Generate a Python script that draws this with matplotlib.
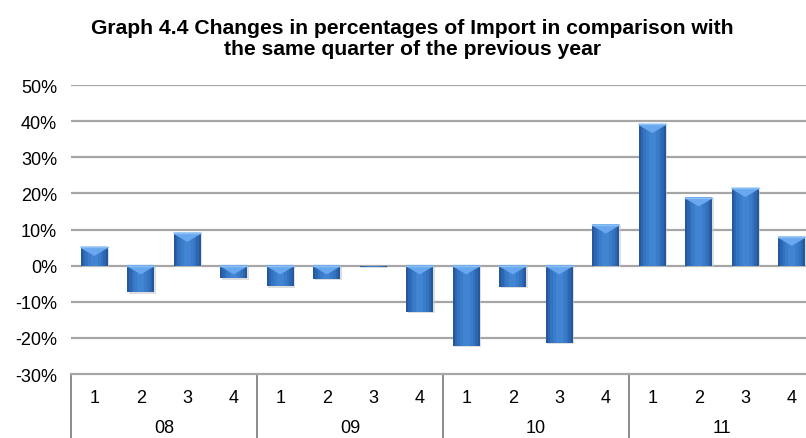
import numpy as np
import matplotlib
matplotlib.use("Agg")
from matplotlib import pyplot as plt
from matplotlib.patches import Polygon

# data (change in % vs same quarter previous year)
years = ["08", "09", "10", "11"]
quarters = ["1", "2", "3", "4"]
values = [5.1, -7.4, 9.0, -3.5,
          -5.7, -3.7, -0.3, -12.7,
          -22.2, -5.8, -21.4, 11.3,
          39.1, 18.8, 21.4, 7.9]
title = "Graph 4.4 Changes in percentages of Import in comparison with\nthe same quarter of the previous year"

plt.rcParams['font.family'] = ['Liberation Sans', 'DejaVu Sans']

fig = plt.figure(figsize=(8.06, 4.39), dpi=100)
ax = fig.add_axes([71/806, 1-375/439, 744/806, 289/439])

x = np.arange(len(values))
vals = np.array(values) / 100.0
bw = 0.58

# gridlines
for g in np.arange(-0.2, 0.51, 0.1):
	ax.axhline(g, color="#a6a6a6", lw=1.6, zorder=1)

# shadow, then layered bars for a soft horizontal gradient
ax.bar(x + 0.03, vals, bw, bottom=-0.004, color="#c8c8c8", alpha=0.6, zorder=2)
layers = [(1.0, "#24579c"), (0.86, "#2d66b0"), (0.68, "#3473c0"), (0.48, "#3a7cca"), (0.26, "#4184d2")]
for k, (f, c) in enumerate(layers):
	ax.bar(x, vals, bw * f, color=c, zorder=3 + k)

# light bevel triangle at top of each bar
bev = 0.022
for xi, v in zip(x, vals):
	top = max(v, 0)
	h = min(bev, abs(v))
	if h < 0.005:
		continue
	tri = Polygon([[xi - bw/2, top], [xi + bw/2, top], [xi, top - h]],
		closed=True, color="#69a8ee", zorder=9)
	ax.add_patch(tri)
	ax.plot([xi - bw/2, xi + bw/2], [top, top], color="#8cc0f5", lw=1, zorder=9)

ax.set_xlim(-0.5, 15.5)
ax.set_ylim(-0.3, 0.5)
ax.set_yticks(np.arange(-0.3, 0.51, 0.1))
ax.set_yticklabels(["{:d}%".format(int(round(t*100))) for t in np.arange(-0.3, 0.51, 0.1)])
ax.tick_params(axis='y', length=0, labelsize=13, pad=10, colors="#000000")
ax.set_xticks([])
for s in ["left", "right", "top"]:
	ax.spines[s].set_visible(False)
ax.spines["bottom"].set_color("#a6a6a6")
ax.spines["bottom"].set_linewidth(1.6)

# two-level category axis
tr = ax.get_xaxis_transform()
for i in range(len(values)):
	ax.text(x[i], -24/289, quarters[i % 4], transform=tr, ha="center", va="center",
		fontsize=13, clip_on=False)
for j, yr in enumerate(years):
	ax.text(j*4 + 1.5, -54/289, yr, transform=tr, ha="center", va="center",
		fontsize=13, clip_on=False)
for b in [-0.5, 3.5, 7.5, 11.5]:
	ax.plot([b, b], [0, -64/289], transform=tr, color="#8c8c8c", lw=1.4, clip_on=False)

fig.text(412/806, 1-39/439, title, ha="center", va="center", fontsize=15.2,
	fontweight="bold", linespacing=1.1)

fig.savefig("out.png", dpi=100)
